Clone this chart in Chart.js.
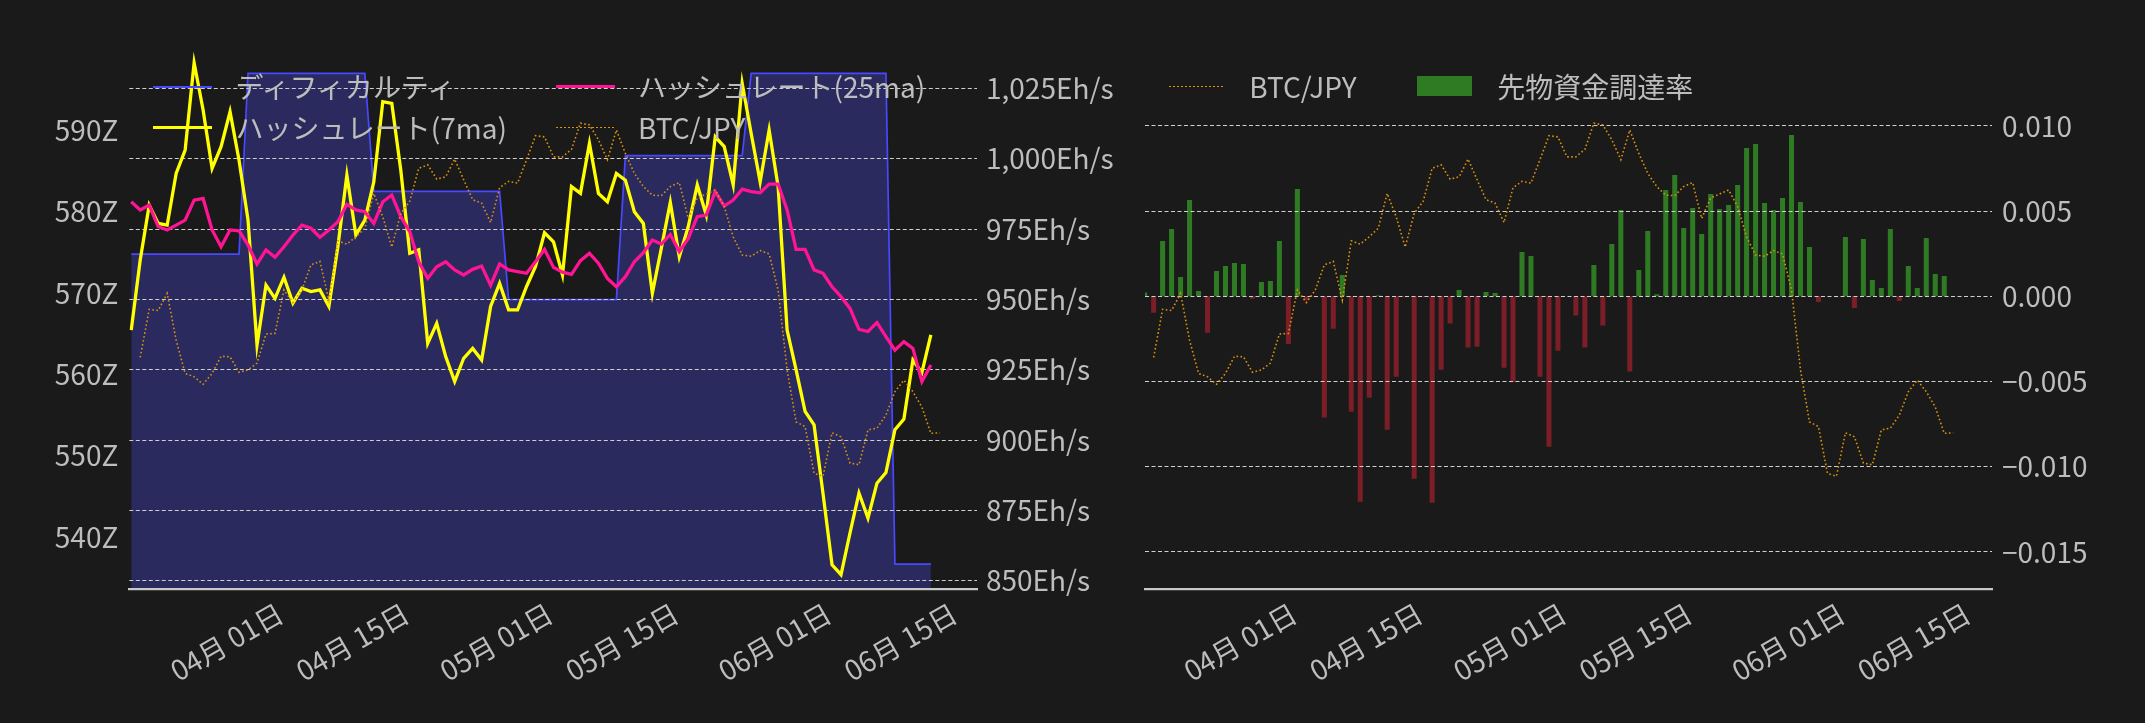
<!DOCTYPE html>
<html lang="ja">
<head>
<meta charset="utf-8">
<title>ハッシュレート / ディフィカルティ / 先物資金調達率</title>
<script src="https://cdn.jsdelivr.net/npm/chart.js@4.4.1/dist/chart.umd.min.js"></script>
<style>
  html, body { margin: 0; padding: 0; background: #1a1a1a; }
  body { position: relative; width: 2145px; height: 723px; overflow: hidden;
         font-family: "Noto Sans CJK JP", "Noto Sans", sans-serif; color: #bdbdbd; }
  canvas { position: absolute; top: 0; }
  .lg-text { position: absolute; font-size: 28px; line-height: 40px; height: 40px; white-space: nowrap; }
  .lg-handle { position: absolute; }
</style>
</head>
<body>
<canvas id="diffBack" width="1140" height="723" style="left:0"></canvas>
<canvas id="hashFront" width="1140" height="723" style="left:0"></canvas>
<canvas id="fundBack" width="1005" height="723" style="left:1140px"></canvas>
<canvas id="btcFront" width="1005" height="723" style="left:1140px"></canvas>
<div id="legend"></div>

<script>
// ---- データ（03/21 〜 06/18 の日次、BTC/JPY のみ 03/22 〜 06/19） ----
const DATES = Array.from({ length: 91 }, (_, i) =>
  new Date(Date.UTC(2025, 2, 21 + i)).toISOString().slice(5, 10));

// ハッシュレート 7日移動平均 (Eh/s)
const HASH_7MA = [
  939.1, 964.0, 983.5, 977.0, 976.4, 994.8, 1003.1, 1034.1, 1017.3, 996.6,
  1004.3, 1016.7, 999.5, 978.2, 933.8, 955.1, 950.4, 957.9, 948.7, 954.0,
  952.8, 953.4, 947.5, 968.8, 994.2, 972.9, 978.2, 991.8, 1020.3, 1019.7,
  996.0, 966.4, 967.6, 934.4, 941.5, 929.7, 920.8, 929.1, 932.6, 928.5,
  947.5, 955.7, 946.3, 946.3, 954.6, 961.7, 973.7, 970.5, 958.7, 990.1,
  987.7, 1005.5, 987.7, 984.7, 994.8, 992.4, 981.2, 977.0, 952.2, 968.2,
  984.5, 965.2, 975.9, 990.7, 980.0, 1007.8, 1004.3, 990.7, 1026.8, 1009.0,
  991.8, 1010.2, 990.1, 939.1, 925.0, 910.2, 905.4, 880.9, 855.7, 852.2,
  867.0, 881.2, 872.3, 884.7, 888.5, 903.7, 907.5, 928.5, 924.0, 937.4
];

// ハッシュレート 25日移動平均 (Eh/s)
const HASH_25MA = [
  984.7, 981.8, 983.5, 975.9, 974.7, 976.4, 978.2, 985.3, 985.9, 974.7,
  968.7, 974.7, 974.4, 969.3, 962.6, 967.6, 965.0, 968.7, 972.9, 976.4,
  975.3, 972.1, 974.7, 977.6, 983.8, 981.8, 981.2, 977.0, 984.7, 987.1,
  979.4, 974.1, 963.4, 957.5, 961.6, 963.4, 960.5, 958.7, 960.7, 961.9,
  955.1, 962.6, 960.5, 959.9, 959.3, 963.4, 967.8, 961.4, 959.7, 958.9,
  963.8, 966.4, 962.9, 957.5, 954.5, 958.1, 963.4, 966.6, 971.1, 969.7,
  973.1, 967.0, 971.7, 979.4, 980.0, 988.3, 983.2, 985.3, 989.2, 988.3,
  987.9, 991.0, 991.0, 981.8, 967.8, 967.8, 960.5, 959.3, 954.5, 951.0,
  946.8, 939.4, 938.6, 941.8, 936.8, 932.0, 935.0, 932.6, 920.8, 926.7
];

// ディフィカルティ (Z)
const DIFFICULTY = [
  574.8, 574.8, 574.8, 574.8, 574.8, 574.8, 574.8, 574.8, 574.8, 574.8,
  574.8, 574.8, 574.8, 597.0, 597.0, 597.0, 597.0, 597.0, 597.0, 597.0,
  597.0, 597.0, 597.0, 597.0, 597.0, 597.0, 597.0, 582.5, 582.5, 582.5,
  582.5, 582.5, 582.5, 582.5, 582.5, 582.5, 582.5, 582.5, 582.5, 582.5,
  582.5, 582.5, 569.2, 569.2, 569.2, 569.2, 569.2, 569.2, 569.2, 569.2,
  569.2, 569.2, 569.2, 569.2, 569.2, 586.9, 586.9, 586.9, 586.9, 586.9,
  586.9, 586.9, 586.9, 586.9, 586.9, 586.9, 586.9, 586.9, 586.9, 597.0,
  597.0, 597.0, 597.0, 597.0, 597.0, 597.0, 597.0, 597.0, 597.0, 597.0,
  597.0, 597.0, 597.0, 597.0, 597.0, 536.7, 536.7, 536.7, 536.7, 536.7
];

// BTC/JPY（万円、目盛りは非表示）
const BTC_JPY = [
  1164, 1248, 1246, 1276, 1194, 1136, 1130, 1117, 1136, 1166,
  1165, 1138, 1142, 1154, 1205, 1206, 1282, 1260, 1282, 1326,
  1332, 1264, 1368, 1362, 1375, 1390, 1451, 1410, 1357, 1416,
  1437, 1495, 1501, 1476, 1480, 1511, 1475, 1440, 1434, 1400,
  1461, 1472, 1469, 1510, 1552, 1550, 1515, 1515, 1528, 1574,
  1571, 1545, 1510, 1562, 1521, 1486, 1463, 1448, 1447, 1463,
  1470, 1407, 1443, 1450, 1457, 1428, 1375, 1343, 1341, 1351,
  1345, 1282, 1142, 1051, 1043, 961, 956, 1032, 1025, 979,
  976, 1037, 1040, 1063, 1104, 1124, 1104, 1077, 1031, 1032
];

// 先物資金調達率
const FUNDING = [
  0.00023, -0.00096, 0.00325, 0.00395, 0.00113, 0.00565, 0.00031, -0.00214, 0.00149, 0.00178,
  0.00196, 0.00190, -0.00014, 0.00084, 0.00090, 0.00325, -0.00280, 0.00630, -0.00025, -0.00005,
  -0.00712, -0.00190, 0.00125, -0.00677, -0.01205, -0.00595, 0.00005, -0.00783, -0.00472, -0.00005,
  -0.01070, -0.00005, -0.01211, -0.00431, -0.00160, 0.00037, -0.00301, -0.00296, 0.00025, 0.00020,
  -0.00419, -0.00505, 0.00260, 0.00237, -0.00472, -0.00883, -0.00319, 0.00000, -0.00113, -0.00301,
  0.00184, -0.00172, 0.00307, 0.00507, -0.00442, 0.00155, 0.00383, 0.00012, 0.00624, 0.00712,
  0.00401, 0.00518, 0.00366, 0.00600, 0.00513, 0.00536, 0.00653, 0.00870, 0.00894, 0.00548,
  0.00507, 0.00577, 0.00947, 0.00554, 0.00290, -0.00033, 0.00000, -0.00006, 0.00348, -0.00068,
  0.00336, 0.00096, 0.00049, 0.00395, -0.00027, 0.00178, 0.00049, 0.00342, 0.00131, 0.00119
];

// 目盛り
const TICK_DATES  = ['04-01', '04-15', '05-01', '05-15', '06-01', '06-15'];
const TICK_LABELS = ['04月 01日', '04月 15日', '05月 01日', '05月 15日', '06月 01日', '06月 15日'];
const DIFF_TICKS  = [540, 550, 560, 570, 580, 590];
const HASH_TICKS  = [850, 875, 900, 925, 950, 975, 1000, 1025];
const FUND_TICKS  = [-0.015, -0.010, -0.005, 0, 0.005, 0.010];

const LABEL_DIFF = 'ディフィカルティ';
const LABEL_7MA  = 'ハッシュレート(7ma)';
const LABEL_25MA = 'ハッシュレート(25ma)';
const LABEL_BTC  = 'BTC/JPY';
const LABEL_FUND = '先物資金調達率';

// ---- 色 ----
const TEXT = '#bdbdbd';
const GRID = '#cfcfcf';
const SPINE = '#c8c8c8';
const DIFF_LINE = '#4848ff';
const DIFF_FILL = '#2a2a5e';
const MA7_COLOR = '#ffff00';
const MA25_COLOR = '#ff1493';
const BTC_COLOR = '#d8920e';
const UP_COLOR = '#2e7b24';
const DOWN_COLOR = '#7b1e27';

// ---- レイアウト（px） ----
const H = 723, TOP = 49, BOTTOM = 589.3;
const LW = 1140, L_LEFT = 129.3, L_RIGHT = 977;      // 左パネル
const RW = 1005, R_LEFT = 5, R_RIGHT = 852;          // 右パネル（canvas は x=1140 から）
const L_XMIN = -10.84, L_XMAX = 83.51;
const R_XMIN = -10.585, R_XMAX = 83.69;
const BTC_MIN = 758.0, BTC_MAX = 1703.8;
const FUND_MIN = -0.017195, FUND_MAX = 0.014513;

// 04/01 からの日数。データは UTC 0時 → JST 軸なので 9時間ずれる
const BASE = Date.UTC(2025, 3, 1);
const TIME_OFFSET = 9 / 24;
const dayNum = md => { const [m, d] = md.split('-').map(Number); return (Date.UTC(2025, m - 1, d) - BASE) / 864e5; };
const dayX = md => dayNum(md) + TIME_OFFSET;
const TICK_DAYS = TICK_DATES.map(dayNum);

const pts = (arr, from) => arr.map((v, i) => ({ x: dayX(DATES[from + i]), y: v }));

// ---- Chart.js 共通設定 ----
Chart.defaults.font.family = '"Noto Sans CJK JP", "Noto Sans", sans-serif';
Chart.defaults.font.size = 28;
Chart.defaults.color = TEXT;
Chart.defaults.animation = false;
Chart.defaults.responsive = false;
Chart.defaults.plugins.legend.display = false;
Chart.defaults.plugins.tooltip.enabled = false;
Chart.defaults.elements.point.radius = 0;
Chart.defaults.elements.line.tension = 0;

const setTicks = vals => s => { s.ticks = vals.map(v => ({ value: v })); };
const fixWidth = w => s => { s.width = w; };
const fixX = h => s => { s.height = h; s.paddingLeft = 0; s.paddingRight = 0; };
const fmtRate = v => (v < 0 ? '\u2212' : '') + Math.abs(v).toFixed(3);

function xAxisFront(min, max) {
  return {
    type: 'linear', min, max, bounds: 'data',
    afterBuildTicks: setTicks(TICK_DAYS),
    afterFit: fixX(H - BOTTOM),
    grid: { display: false, drawTicks: false },
    border: { display: true, color: SPINE, width: 2.3 },
    ticks: { autoSkip: false, minRotation: 30, maxRotation: 30, labelOffset: 54, padding: 7,
             callback: (v, i) => TICK_LABELS[i] }
  };
}
const gridY = { color: GRID, lineWidth: 1, drawTicks: false };
const dashY = { display: false, dash: [4, 2.5] };

// ---- 左：ディフィカルティ（背面） ----
new Chart(document.getElementById('diffBack'), {
  type: 'line',
  data: { datasets: [{
    label: LABEL_DIFF, data: pts(DIFFICULTY, 0), yAxisID: 'yDiff',
    borderColor: DIFF_LINE, borderWidth: 1.7, backgroundColor: DIFF_FILL, fill: 'start'
  }]},
  options: {
    layout: { padding: { top: TOP, right: LW - L_RIGHT, bottom: H - BOTTOM, left: 0 } },
    scales: {
      x: { type: 'linear', display: false, min: L_XMIN, max: L_XMAX },
      yDiff: { position: 'left', min: 533.6, max: 600.0, bounds: 'data',
        afterBuildTicks: setTicks(DIFF_TICKS), afterFit: fixWidth(L_LEFT),
        grid: { display: false, drawTicks: false }, border: { display: false },
        ticks: { padding: 11, callback: v => v + 'Z' } }
    }
  }
});

// ---- 左：ハッシュレート・BTC/JPY（前面） ----
new Chart(document.getElementById('hashFront'), {
  type: 'line',
  data: { datasets: [
    { label: LABEL_BTC, data: pts(BTC_JPY, 1), yAxisID: 'yBtc', order: 1,
      borderColor: BTC_COLOR, borderWidth: 1.6, borderDash: [1.6, 2.4] },
    { label: LABEL_25MA, data: pts(HASH_25MA, 0), yAxisID: 'yHash', order: 2,
      borderColor: MA25_COLOR, borderWidth: 3.3 },
    { label: LABEL_7MA, data: pts(HASH_7MA, 0), yAxisID: 'yHash', order: 3,
      borderColor: MA7_COLOR, borderWidth: 3.3 }
  ]},
  options: {
    layout: { padding: { top: TOP, left: L_LEFT, right: 0, bottom: 0 } },
    scales: {
      x: xAxisFront(L_XMIN, L_XMAX),
      yHash: { position: 'right', min: 847.0, max: 1039.0, bounds: 'data',
        afterBuildTicks: setTicks(HASH_TICKS), afterFit: fixWidth(LW - L_RIGHT),
        grid: gridY, border: dashY,
        ticks: { padding: 9, callback: v => v.toLocaleString('en-US') + 'Eh/s' } },
      yBtc: { position: 'right', display: false, min: BTC_MIN, max: BTC_MAX }
    }
  }
});

// ---- 右：先物資金調達率（背面） ----
new Chart(document.getElementById('fundBack'), {
  type: 'bar',
  data: { datasets: [{
    label: LABEL_FUND, data: pts(FUNDING, 0), yAxisID: 'yFund',
    backgroundColor: c => (c.parsed && c.parsed.y < 0) ? DOWN_COLOR : UP_COLOR,
    barPercentage: 0.7, categoryPercentage: 0.8
  }]},
  options: {
    layout: { padding: { top: TOP, right: RW - R_RIGHT, bottom: H - BOTTOM, left: R_LEFT } },
    scales: {
      x: { type: 'linear', display: false, offset: false, min: R_XMIN, max: R_XMAX, grid: { offset: false } },
      yFund: { display: false, min: FUND_MIN, max: FUND_MAX }
    }
  }
});

// ---- 右：BTC/JPY（前面） ----
new Chart(document.getElementById('btcFront'), {
  type: 'line',
  data: { datasets: [{
    label: LABEL_BTC, data: pts(BTC_JPY, 1), yAxisID: 'yBtc',
    borderColor: BTC_COLOR, borderWidth: 1.6, borderDash: [1.6, 2.4]
  }]},
  options: {
    layout: { padding: { top: TOP, left: R_LEFT, right: 0, bottom: 0 } },
    scales: {
      x: xAxisFront(R_XMIN, R_XMAX),
      yBtc: { position: 'left', display: false, min: BTC_MIN, max: BTC_MAX },
      yFund: { position: 'right', min: FUND_MIN, max: FUND_MAX, bounds: 'data',
        afterBuildTicks: setTicks(FUND_TICKS), afterFit: fixWidth(RW - R_RIGHT),
        grid: gridY, border: dashY,
        ticks: { padding: 10, callback: fmtRate } }
    }
  }
});

// ---- 凡例（HTML） ----
const legend = document.getElementById('legend');
function lineHandle(x1, x2, y, w, color, dotted) {
  const el = document.createElement('div');
  el.className = 'lg-handle';
  el.style.cssText = `left:${x1}px;top:${y - w / 2}px;width:${x2 - x1}px;height:${w}px;` +
    (dotted ? `background:repeating-linear-gradient(to right, ${color} 0 1.6px, transparent 1.6px 4px);`
            : `background:${color};`);
  legend.appendChild(el);
}
function patchHandle(x1, x2, y1, y2, color) {
  const el = document.createElement('div');
  el.className = 'lg-handle';
  el.style.cssText = `left:${x1}px;top:${y1}px;width:${x2 - x1}px;height:${y2 - y1}px;background:${color};`;
  legend.appendChild(el);
}
function legendText(x, cy, text) {
  const el = document.createElement('div');
  el.className = 'lg-text';
  el.style.left = x + 'px';
  el.style.top = (cy - 21) + 'px';
  el.textContent = text;
  legend.appendChild(el);
}

lineHandle(153, 212, 86.7, 1.7, DIFF_LINE);       legendText(235.4, 86.7, LABEL_DIFF);
lineHandle(153, 212, 127.7, 3.3, MA7_COLOR);      legendText(235.4, 128, LABEL_7MA);
lineHandle(556, 615, 86.7, 3.3, MA25_COLOR);      legendText(638, 86.7, LABEL_25MA);
lineHandle(556, 615, 127.3, 1.6, BTC_COLOR, true); legendText(638, 128, LABEL_BTC);

lineHandle(1169, 1224, 86.3, 1.6, BTC_COLOR, true); legendText(1249.3, 86.5, LABEL_BTC);
patchHandle(1417.3, 1471.7, 76, 95.7, UP_COLOR);     legendText(1497.3, 86.7, LABEL_FUND);
</script>
</body>
</html>
